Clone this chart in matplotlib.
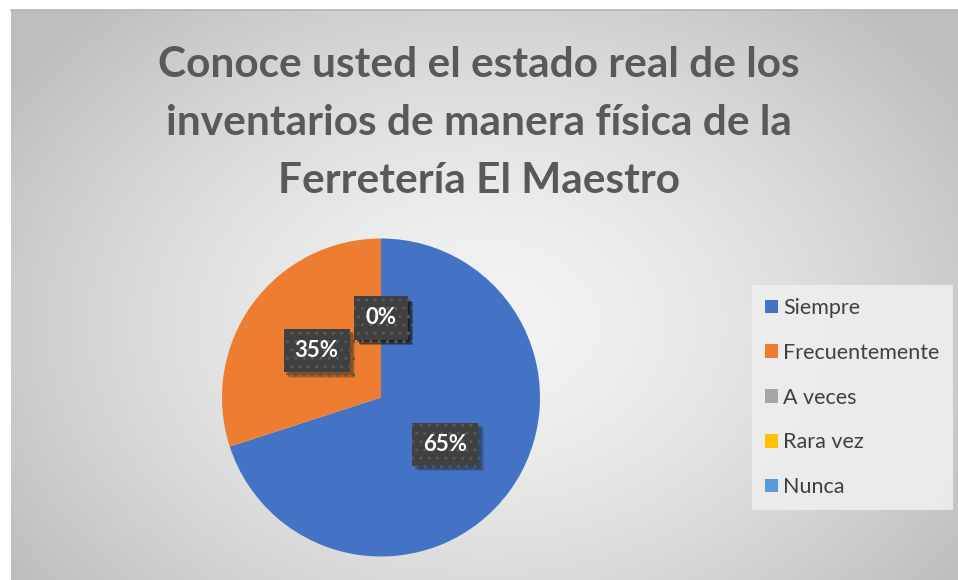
import numpy as np
import matplotlib
matplotlib.use("Agg")
import matplotlib.pyplot as plt
import matplotlib.patheffects as pe

categories = ["Siempre", "Frecuentemente", "A veces", "Rara vez", "Nunca"]
# slice sizes as drawn in the picture
slice_values = [70, 30, 0, 0, 0]
# percentage labels as printed on the picture
label_texts = ["65%", "35%", "0%", "0%", "0%"]
colors = ["#4472C4", "#ED7D31", "#A5A5A5", "#FFC000", "#5B9BD5"]
title = "Conoce usted el estado real de los\ninventarios de manera física de la\nFerretería El Maestro"

plt.rcParams['font.family'] = ['Lato', 'DejaVu Sans']

fig = plt.figure(figsize=(9.58, 5.8), dpi=100)
W, H = 958, 580

# background radial gradient (chart area)
bg = fig.add_axes([11 / W, 0, 1 - 11 / W, 1 - 10 / H])
yy, xx = np.mgrid[0:200, 0:330]
cx, cy = 165, 110
d = np.sqrt(((xx - cx) / 200.0) ** 2 + ((yy - cy) / 150.0) ** 2)
d = np.clip(d, 0, 1)
img = 0.955 - 0.21 * d ** 1.5
bg.imshow(np.dstack([img, img, img]), aspect='auto', extent=[0, 1, 0, 1], interpolation='bicubic')
bg.set_axis_off()
fig.add_artist(plt.Line2D([11 / W, 1], [1 - 10 / H, 1 - 10 / H], color="#b5b5b5", lw=1.2))

fig.text(0.5, 1 - 123 / H, title, ha='center', va='center', fontsize=30.5, fontweight='bold',
         color='#595959', linespacing=1.65)

R = 159
ax = fig.add_axes([(381 - R) / W, (580 - 397.5 - R) / H, 2 * R / W, 2 * R / H])
wedges, texts = ax.pie(slice_values, colors=colors, startangle=90, counterclock=False,
                       wedgeprops=dict(linewidth=0))
ax.set_xlim(-1, 1)
ax.set_ylim(-1, 1)

for w, lab in zip(wedges, label_texts):
    ang = np.deg2rad((w.theta1 + w.theta2) / 2.0)
    t = ax.text(0.5 * np.cos(ang), 0.5 * np.sin(ang), lab, ha='center', va='center',
                color='white', fontsize=16, fontweight='bold')
    t.set_bbox(dict(boxstyle='square,pad=0.5', facecolor='#404040', edgecolor='#595959',
                    linewidth=0, hatch='..'))
    t.get_bbox_patch().set_path_effects([
        pe.SimplePatchShadow(offset=(4, -4), alpha=0.12),
        pe.SimplePatchShadow(offset=(3, -3), alpha=0.18),
        pe.SimplePatchShadow(offset=(2, -2), alpha=0.22),
        pe.Normal()])

handles = [plt.Rectangle((0, 0), 1, 1, facecolor=c, edgecolor='none') for c in colors]
leg = fig.legend(handles, categories, loc='center left', bbox_to_anchor=(752 / W, 1 - 397.5 / H),
                 frameon=True, fontsize=15.5, handlelength=0.6, handleheight=0.6,
                 handletextpad=0.25, labelspacing=1.15, borderpad=0.6, borderaxespad=0,
                 labelcolor='#404040')
leg.get_frame().set_facecolor('#eeeeee')
leg.get_frame().set_edgecolor('none')
leg.get_frame().set_boxstyle('square', pad=0)
leg.get_frame().set_alpha(0.9)

fig.savefig("out.png", dpi=100)
